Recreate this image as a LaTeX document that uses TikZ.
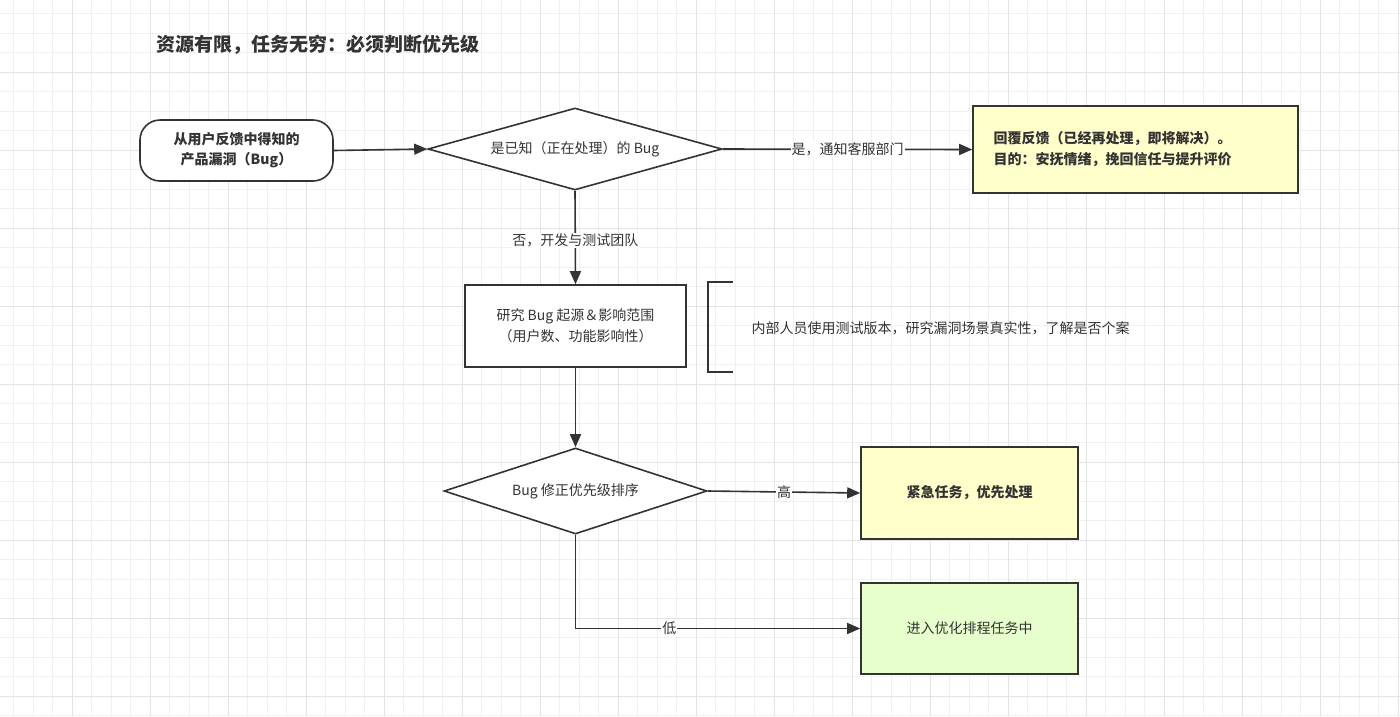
\documentclass[tikz,border=0pt]{standalone}
\usepackage{fontspec}
\setmainfont{Noto Sans CJK SC}
\usetikzlibrary{shapes.geometric,arrows.meta}
\definecolor{ln}{HTML}{333333}
\definecolor{yel}{HTML}{FFFFCC}
\definecolor{grn}{HTML}{E6FFCC}
\begin{document}
\begin{tikzpicture}[x=1pt,y=-1pt,
 every node/.style={font=\fontsize{14}{18}\selectfont,text=ln},
 box/.style={draw=ln,line width=1.6pt,inner sep=0pt},
 dia/.style={draw=ln,line width=1.6pt,diamond,aspect=3.6,inner sep=0pt,fill=white},
 arr/.style={draw=ln,line width=1.6pt,-{Triangle[length=13pt,width=11pt]}},
 lbl/.style={fill=white,inner sep=1pt}]
\fill[white] (0,0) rectangle (1400,716);
\useasboundingbox (0,0) rectangle (1400,716);
\foreach \i in {0,...,72} {\draw[gray!12,line width=0.6pt] ({13.5+19.5*\i},0) -- ({13.5+19.5*\i},716);}
\foreach \i in {0,...,37} {\draw[gray!12,line width=0.6pt] (0,{13.5+19.5*\i}) -- (1400,{13.5+19.5*\i});}
\foreach \i in {0,...,18} {\draw[gray!22,line width=0.8pt] ({-6+78*\i},0) -- ({-6+78*\i},716);}
\foreach \i in {0,...,9} {\draw[gray!22,line width=0.8pt] (0,{-6+78*\i}) -- (1400,{-6+78*\i});}

\node[anchor=west,font=\fontsize{19}{22}\selectfont\bfseries] (title) at (153,45) {资源有限，任务无穷：必须判断优先级};

\node[box,rounded corners=20pt,fill=white,minimum width=193pt,minimum height=61pt,align=center,font=\fontsize{14}{20}\selectfont\bfseries] (start) at (236.5,150.5) {从用户反馈中得知的\\产品漏洞（Bug）};
\node[box,diamond,aspect=3.6,minimum width=294pt,minimum height=82pt,fill=white] (d1) at (575,149) {};
\node at (d1) {是已知（正在处理）的 Bug};
\node[box,fill=yel,minimum width=325pt,minimum height=87pt] (b1) at (1135.5,149.5) {};
\node[anchor=west,align=left,font=\fontsize{14}{21}\selectfont\bfseries] at (990,149.5) {回覆反馈（已经再处理，即将解决）。\\目的：安抚情绪，挽回信任与提升评价};
\node[box,fill=white,minimum width=221pt,minimum height=82pt,align=center,font=\fontsize{14}{21}\selectfont] (b2) at (575.5,326) {研究 Bug 起源＆影响范围\\（用户数、功能影响性）};
\node[box,diamond,aspect=3.1,minimum width=263pt,minimum height=86pt,fill=white] (d2) at (575.5,491) {};
\node at (d2) {Bug 修正优先级排序};
\node[box,fill=yel,minimum width=217pt,minimum height=92pt,font=\fontsize{14}{18}\selectfont\bfseries] (b3) at (969.5,493) {紧急任务，优先处理};
\node[box,fill=grn,minimum width=217pt,minimum height=91pt] (b4) at (969.5,628.5) {进入优化排程任务中};

\coordinate (br1) at (733,282);
\coordinate (br2) at (733,372);
\draw[ln,line width=1.6pt] (br1) -- (708,282) -- (708,372) -- (br2);
\node[anchor=west] (note) at (748,328) {内部人员使用测试版本，研究漏洞场景真实性，了解是否个案};

\draw[arr] (start.east) -- (d1.west);
\draw[arr] (d1.east) -- node[lbl] {是，通知客服部门} (b1.west);
\draw[arr] (d1.south) -- node[lbl,pos=0.53] {否，开发与测试团队} (b2.north);
\draw[arr] (b2.south) -- (d2.north);
\draw[arr] (d2.east) -- node[lbl,pos=0.5] {高} (b3.west);
\coordinate (c) at (575.5,628.5);
\draw[arr] (d2.south) -- (c) -- node[lbl,pos=0.33] {低} (b4.west);
\end{tikzpicture}
\end{document}
